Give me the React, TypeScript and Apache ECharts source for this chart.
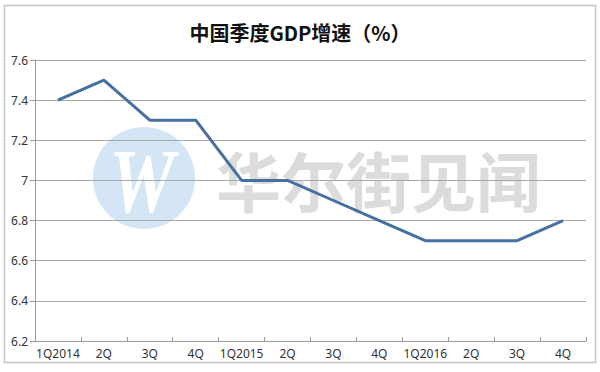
import React, { useEffect, useRef } from "react";
import * as echarts from "echarts";

const categories = ["1Q2014", "2Q", "3Q", "4Q", "1Q2015", "2Q", "3Q", "4Q", "1Q2016", "2Q", "3Q", "4Q"];
const gdpGrowth = [7.4, 7.5, 7.3, 7.3, 7.0, 7.0, 6.9, 6.8, 6.7, 6.7, 6.7, 6.8];
const yMin = 6.2;
const yMax = 7.6;
const yStep = 0.2;

export default function App() {
  const ref = useRef<HTMLDivElement>(null);
  useEffect(() => {
    if (!ref.current) return;
    const chart = echarts.init(ref.current, null, { renderer: "svg" });
    chart.setOption({
      animation: false,
      backgroundColor: "#ffffff",
      title: {
        text: "中国季度GDP增速（%）",
        left: "center",
        top: 17,
        textStyle: {
          fontFamily: "Noto Sans CJK SC",
          fontSize: 20,
          fontWeight: "bold",
          color: "#111111",
        },
      },
      graphic: [
        {
          type: "rect",
          z: -20,
          silent: true,
          shape: { x: 4.5, y: 5.5, width: 591, height: 357 },
          style: { fill: "#ffffff", stroke: "#c4c4c4", lineWidth: 1.5 },
        },
        {
          type: "circle",
          z: -10,
          silent: true,
          shape: { cx: 144, cy: 178, r: 51 },
          style: { fill: "#d4e5f5" },
        },
        {
          type: "text",
          z: -9,
          silent: true,
          x: 142,
          y: 181,
          scaleX: 0.8,
          style: {
            text: "W",
            fontFamily: "Liberation Serif",
            fontWeight: "bold",
            fontStyle: "italic",
            fontSize: 92,
            fill: "#ffffff",
            align: "center",
            verticalAlign: "middle",
          },
        },
        {
          type: "text",
          z: -9,
          silent: true,
          x: 216,
          y: 179,
          style: {
            text: "华尔街见闻",
            fontFamily: "Noto Sans CJK SC",
            fontWeight: "bold",
            fontSize: 65,
            fill: "#dcdcdc",
            align: "left",
            verticalAlign: "middle",
          },
        },
      ],
      grid: { left: 35, right: 14, top: 60, bottom: 31, containLabel: false },
      xAxis: {
        type: "category",
        data: categories,
        boundaryGap: true,
        axisLine: { lineStyle: { color: "#9a9a9a", width: 1 } },
        axisTick: { show: true, inside: true, length: 4, lineStyle: { color: "#9a9a9a" } },
        axisLabel: {
          color: "#333333",
          fontFamily: "Noto Sans",
          fontSize: 12,
          margin: 6,
          interval: 0,
        },
        splitLine: { show: false },
      },
      yAxis: {
        type: "value",
        min: yMin,
        max: yMax,
        interval: yStep,
        axisLine: { show: true, lineStyle: { color: "#9a9a9a", width: 1 } },
        axisTick: { show: true, length: 5, lineStyle: { color: "#9a9a9a" } },
        axisLabel: {
          color: "#333333",
          fontFamily: "Noto Sans",
          fontSize: 12,
          margin: 7,
          formatter: (v: number) => String(parseFloat(v.toFixed(1))),
        },
        splitLine: { show: true, lineStyle: { color: "#a8a8a8", width: 1 } },
      },
      series: [
        {
          type: "line",
          data: gdpGrowth,
          symbol: "none",
          lineStyle: { color: "#46709f", width: 3 },
          itemStyle: { color: "#46709f" },
        },
      ],
    });
    return () => chart.dispose();
  }, []);
  return <div ref={ref} style={{ width: 600, height: 372, position: "absolute", left: 0, top: 0 }} />;
}
